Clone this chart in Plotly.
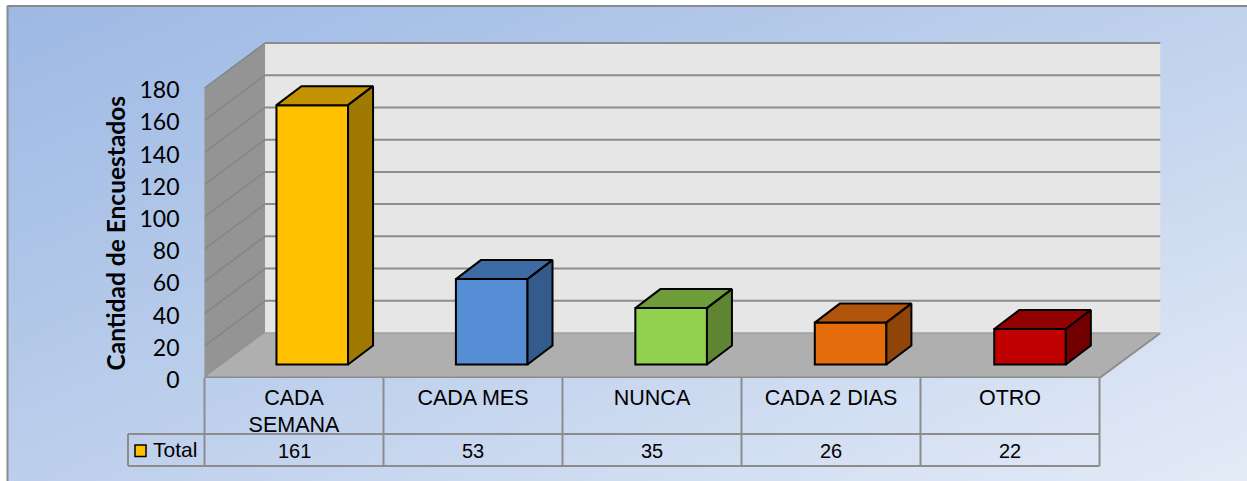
import plotly.graph_objects as go

# ---- data ----
categories = ["CADA<br>SEMANA", "CADA MES", "NUNCA", "CADA 2 DIAS", "OTRO"]
values = [161, 53, 35, 26, 22]
series_name = "Total"
y_ticks = [0, 20, 40, 60, 80, 100, 120, 140, 160, 180]
axis_title = "Cantidad de Encuestados"
front_colors = ["#ffc000", "#558ed5", "#92d050", "#e46c0a", "#c00000"]
top_colors = ["#c39200", "#3e6ba4", "#6f9c3b", "#b0540a", "#920000"]
side_colors = ["#a07a00", "#355b8c", "#5f8532", "#8f4408", "#720000"]

# ---- layout geometry (canvas pixels) ----
W, H = 1247, 481
LEFT, BAND, RIGHT = 204.5, 179.0, 1160.5
Y0, PX_PER_UNIT, TOP = 378.0, 1.611, 42.0
DEPTH_PX, DEPTH_PY = 60.5, 45.0
TABLE_MID, TABLE_BOT, KEY_LEFT = 434.0, 466.0, 128.0
n = len(categories)
GRID = "#8c8c8c"

xmax = (RIGHT - LEFT) / BAND
ymax = (Y0 - TOP) / PX_PER_UNIT
ddx = DEPTH_PX / BAND
ddy = DEPTH_PY / PX_PER_UNIT
# bar placement inside each band
bar_off, bar_w, bar_step = 0.402, 0.400, 1.0025
bar_base = (Y0 - 364.5) / PX_PER_UNIT
bar_dx, bar_dy = 25.0 / BAND, 19.0 / PX_PER_UNIT

fig = go.Figure()

# background gradient on a full-canvas pixel axis
fig.add_trace(go.Heatmap(
    x=[0, W], y=[0, H], z=[[0.0, 0.52], [0.47, 1.0]], zsmooth="best",
    colorscale=[[0, "#9cb8e4"], [0.5, "#bed0ec"], [1, "#e4ebf7"]], zmin=0, zmax=1,
    showscale=False, hoverinfo="skip", xaxis="x", yaxis="y"))

# front faces
fig.add_trace(go.Bar(
    x=[i * bar_step + bar_off + bar_w / 2 for i in range(n)], y=values, base=bar_base, width=bar_w,
    marker=dict(color=front_colors, line=dict(color="#000000", width=2)),
    name=series_name, showlegend=False, hoverinfo="y", xaxis="x2", yaxis="y2"))

# top and side faces
for i, v in enumerate(values):
    l, r = i * bar_step + bar_off, i * bar_step + bar_off + bar_w
    b, t = bar_base, bar_base + v
    fig.add_trace(go.Scatter(
        x=[l, r, r + bar_dx, l + bar_dx, l], y=[t, t, t + bar_dy, t + bar_dy, t],
        mode="lines", fill="toself", fillcolor=top_colors[i],
        line=dict(color="#000000", width=2), showlegend=False, hoverinfo="skip",
        xaxis="x2", yaxis="y2"))
    fig.add_trace(go.Scatter(
        x=[r, r + bar_dx, r + bar_dx, r, r], y=[t, t + bar_dy, b + bar_dy, b, t],
        mode="lines", fill="toself", fillcolor=side_colors[i],
        line=dict(color="#000000", width=2), showlegend=False, hoverinfo="skip",
        xaxis="x2", yaxis="y2"))

shapes = []


def poly(pts, fill, line=None, width=0, ref=("x2", "y2"), layer="below"):
    path = "M " + " L ".join(f"{a},{b}" for a, b in pts) + " Z"
    shapes.append(dict(type="path", path=path, xref=ref[0], yref=ref[1], layer=layer,
                       fillcolor=fill, line=dict(color=line or "rgba(0,0,0,0)", width=width)))


def seg(x0, y0, x1, y1, color=GRID, width=2, ref=("x2", "y2"), layer="below"):
    shapes.append(dict(type="line", x0=x0, y0=y0, x1=x1, y1=y1, xref=ref[0], yref=ref[1],
                       layer=layer, line=dict(color=color, width=width)))


top_v = y_ticks[-1]
# back wall, left wall, floor
poly([(ddx, ddy), (xmax, ddy), (xmax, ddy + top_v), (ddx, ddy + top_v)], "#e6e6e6")
poly([(0, 0), (ddx, ddy), (ddx, ddy + top_v), (0, top_v)], "#949494")
poly([(0, 0), (n, 0), (xmax, ddy), (ddx, ddy)], "#afafaf")
for tv in y_ticks:
    if tv:
        seg(ddx, ddy + tv, xmax, ddy + tv)
        seg(0, tv, ddx, ddy + tv, color="#858585", width=1.5)
seg(0, 0, n, 0, width=3)
seg(n, 0, xmax, ddy, width=2)
seg(ddx, ddy, xmax, ddy, color="#a0a0a0", width=1.5)
seg(0, 0, 0, top_v, color="#9a9a9a", width=1)

# table grid, in canvas pixels
pix = ("x", "y")
for i in range(n + 1):
    xp = LEFT + i * BAND
    seg(xp, Y0, xp, TABLE_BOT, color=GRID, width=2, ref=pix, layer="above")
seg(LEFT, TABLE_MID, LEFT + n * BAND, TABLE_MID, color=GRID, width=2, ref=pix, layer="above")
seg(KEY_LEFT, TABLE_MID, LEFT, TABLE_MID, color=GRID, width=2, ref=pix, layer="above")
seg(KEY_LEFT, TABLE_BOT, LEFT + n * BAND, TABLE_BOT, color=GRID, width=2, ref=pix, layer="above")
seg(KEY_LEFT, TABLE_MID, KEY_LEFT, TABLE_BOT, color=GRID, width=2, ref=pix, layer="above")
# legend key
shapes.append(dict(type="rect", x0=135, x1=146, y0=445, y1=456.5, xref="x", yref="y", layer="above",
                   fillcolor=front_colors[0], line=dict(color="#000000", width=1.5)))
# outer margin and frame
shapes.append(dict(type="rect", x0=0, x1=7, y0=0, y1=H, xref="x", yref="y", layer="above",
                   fillcolor="#ffffff", line=dict(width=0)))
shapes.append(dict(type="rect", x0=0, x1=W, y0=0, y1=5, xref="x", yref="y", layer="above",
                   fillcolor="#ffffff", line=dict(width=0)))
seg(7.5, 6, W, 6, color="#8a8a8a", width=2, ref=pix, layer="above")
seg(7.5, 6, 7.5, H, color="#8a8a8a", width=2, ref=pix, layer="above")

# value row, legend label and axis title
annotations = [dict(x=i + 0.5, y=(TABLE_MID + TABLE_BOT) / 2 + 1, xref="x2", yref="y", text=str(v),
                    showarrow=False, font=dict(family="Liberation Sans", size=20, color="#000000"))
               for i, v in enumerate(values)]
annotations.append(dict(x=151, y=(TABLE_MID + TABLE_BOT) / 2 - 1, xref="x", yref="y", text=series_name,
                        xanchor="left", showarrow=False,
                        font=dict(family="Liberation Sans", size=21, color="#000000")))
annotations.append(dict(x=115, y=233.5, xref="x", yref="y", text=axis_title, textangle=-90,
                        showarrow=False,
                        font=dict(family="Lato", size=24.5, color="#000000", weight="bold")))

fig.update_layout(
    width=W, height=H, autosize=False,
    margin=dict(l=0, r=0, t=0, b=0, pad=0, autoexpand=False), paper_bgcolor="#ffffff",
    plot_bgcolor="rgba(0,0,0,0)",
    showlegend=False, barmode="overlay", shapes=shapes, annotations=annotations,
    xaxis=dict(domain=[0, 1], range=[0, W], visible=False, fixedrange=True),
    yaxis=dict(domain=[0, 1], range=[H, 0], visible=False, fixedrange=True),
    xaxis2=dict(domain=[LEFT / W, RIGHT / W], range=[0, xmax], anchor="y2",
                tickvals=[i + 0.5 for i in range(n)], ticktext=categories,
                ticks="", showgrid=False, zeroline=False, showline=False,
                ticklabelstandoff=4, tickangle=0, automargin=False,
                tickfont=dict(family="Liberation Sans", size=21.5, color="#000000")),
    yaxis2=dict(domain=[(H - Y0) / H, (H - TOP) / H], range=[0, ymax], anchor="x2",
                tickvals=y_ticks, ticktext=[str(t) for t in y_ticks],
                ticks="", showgrid=False, zeroline=False, showline=False,
                ticklabelstandoff=24, ticklabelshift=2, automargin=False,
                tickfont=dict(family="Lato", size=23, color="#000000")),
)

fig.write_html("out.html", config=dict(displayModeBar=False),
               post_script="document.body.style.margin='0';document.body.style.overflow='hidden';")
